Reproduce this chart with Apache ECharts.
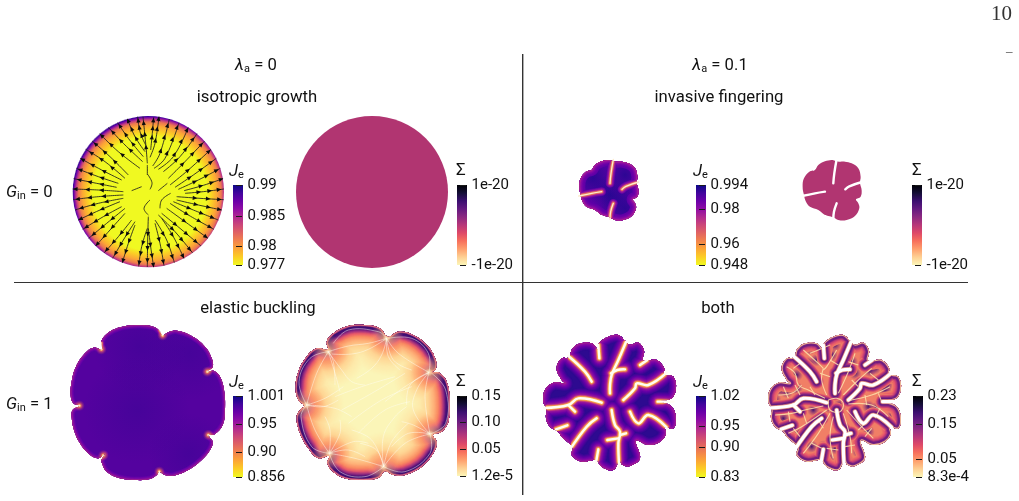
<!DOCTYPE html>
<html>
<head>
<meta charset="utf-8">
<style>html,body{margin:0;padding:0;background:#fff}#main{width:1019px;height:501px}</style>
<script src="https://cdn.jsdelivr.net/npm/echarts@6/dist/echarts.min.js"></script>
</head>
<body>
<div id="main"></div>
<script>
// Colormaps for the two fields
const plasmaMap = ['#0d0887','#41049d','#6a00a8','#8f0da4','#b12a90','#cc4778','#e16462','#f2844b','#fca636','#fcce25','#f0f921'];
const magmaMap = ['#000004','#140e36','#3b0f70','#641a80','#8c2981','#b73779','#de4968','#f7705c','#fe9f6d','#fecf92','#fcf6b8'];

// Colorbar scales: ticks and their printed labels
const isoJeTicks = [0.99, 0.985, 0.98, 0.977];
const isoJeLabels = ['0.99', '0.985', '0.98', '0.977'];
const isoSigmaTicks = [1e-20, -1e-20];
const isoSigmaLabels = ['1e-20', '-1e-20'];
const invJeTicks = [0.994, 0.98, 0.96, 0.948];
const invJeLabels = ['0.994', '0.98', '0.96', '0.948'];
const invSigmaTicks = [1e-20, -1e-20];
const invSigmaLabels = ['1e-20', '-1e-20'];
const bucJeTicks = [1.001, 0.95, 0.90, 0.856];
const bucJeLabels = ['1.001', '0.95', '0.90', '0.856'];
const bucSigmaTicks = [0.15, 0.10, 0.05, 1.2e-5];
const bucSigmaLabels = ['0.15', '0.10', '0.05', '1.2e-5'];
const bothJeTicks = [1.02, 0.95, 0.90, 0.83];
const bothJeLabels = ['1.02', '0.95', '0.90', '0.83'];
const bothSigmaTicks = [0.23, 0.15, 0.05, 8.3e-4];
const bothSigmaLabels = ['0.23', '0.15', '0.05', '8.3e-4'];

// Isotropic growth: disc (centre x, centre y, radius) in domain units
const isoJeDisc = [265, 275, 227];
const isoSigmaDisc = [246, 276, 228];
const isoJeRadial = [[0,'#f0f921'],[0.74,'#f0f921'],[0.80,'#fbd324'],[0.875,'#fca636'],[0.925,'#ec7850'],[0.955,'#c23c80'],[0.98,'#7a08a6'],[0.995,'#3d049b'],[1,'#6a3aa8']];
const isoSigmaFill = '#b13571';

// Flow lines of the isotropic growth panel, inner end first
const isoFlowLines = [
  [[262,190],[258,140],[249,50]],
  [[272,150],[276,110],[281,52]],
  [[270,172],[285,130],[297,50]],
  [[278,198],[300,160],[328,57]],
  [[282,205],[315,175],[357,68]],
  [[295,208],[340,170],[385,82]],
  [[310,215],[360,170],[411,101]],
  [[325,235],[370,190],[434,123]],
  [[330,255],[385,210],[453,148]],
  [[345,262],[400,225],[469,175]],
  [[355,268],[415,240],[481,205]],
  [[372,272],[430,256],[489,236]],
  [[375,280],[430,275],[492,267]],
  [[350,290],[420,295],[491,299]],
  [[350,300],[415,315],[485,330]],
  [[340,305],[400,330],[475,360]],
  [[330,310],[385,345],[462,388]],
  [[320,325],[375,365],[444,415]],
  [[305,340],[360,385],[423,438]],
  [[295,345],[345,395],[398,459]],
  [[305,355],[340,410],[372,475]],
  [[285,360],[320,420],[343,488]],
  [[285,370],[300,430],[312,497]],
  [[265,385],[272,440],[281,501]],
  [[265,350],[263,420],[262,501]],
  [[262,385],[245,440],[236,499]],
  [[225,375],[205,430],[187,488]],
  [[225,365],[190,420],[158,475]],
  [[215,360],[175,410],[132,459]],
  [[195,340],[150,390],[107,438]],
  [[195,325],[140,370],[86,415]],
  [[185,320],[130,350],[68,388]],
  [[180,305],[120,330],[55,360]],
  [[190,295],[115,310],[45,330]],
  [[190,285],[115,290],[39,299]],
  [[190,275],[115,270],[38,267]],
  [[170,262],[110,250],[41,236]],
  [[175,250],[115,230],[49,205]],
  [[185,240],[125,210],[61,175]],
  [[195,235],[135,185],[77,148]],
  [[205,225],[150,170],[96,123]],
  [[240,205],[175,155],[119,101]],
  [[248,185],[190,130],[145,82]],
  [[250,170],[205,115],[173,68]],
  [[255,155],[225,110],[202,57]],
  [[257,135],[240,95],[233,50]]
];
const isoFlowCore = [
  [[262,195],[262,225]],
  [[245,260],[215,272]],
  [[262,222],[276,248],[270,268]],
  [[270,300],[252,325],[265,345]],
  [[332,280],[305,300],[300,325]],
  [[322,250],[295,272]]
];

// Invasive fingering: lobed boundary and the cracks running into it
const invRing = [[155,62],[167,65],[185,65],[205,70],[225,85],[232,110],[230,128],[235,150],[232,170],[218,178],[225,190],[228,205],[215,228],[190,240],[165,240],[150,232],[135,228],[125,225],[105,210],[80,200],[68,185],[62,165],[58,140],[62,115],[78,95],[95,90],[105,75],[125,64],[145,60]];
const invCracks = [
  [[160,58],[153,100],[150,130]],
  [[236,126],[198,139],[186,148]],
  [[160,190],[152,215],[150,238]],
  [[56,168],[95,160],[125,155]]
];
const invDeep = [[100,115,24],[150,165,20],[195,205,26],[195,105,20]];

// Elastic buckling: boundary, notch points, cuts at the notches, deep regions
const bucJeRing = [[126,118],[124,95],[140,72],[180,52],[235,45],[280,50],[298,62],[308,76],[322,68],[350,62],[395,78],[435,110],[455,145],[458,170],[440,185],[462,183],[480,200],[492,240],[495,300],[488,345],[465,372],[445,375],[458,395],[450,420],[425,450],[385,480],[340,497],[315,495],[298,485],[290,495],[270,507],[225,510],[175,503],[140,485],[128,465],[125,450],[135,432],[112,445],[85,430],[60,400],[42,360],[35,320],[38,300],[58,287],[40,280],[32,255],[35,215],[48,170],[75,130],[100,113]];
const bucJeNotches = [[124,118],[308,76],[442,185],[445,375],[130,436],[298,485],[58,287]];
const bucJeCuts = [[[124,118],[124,98]],[[308,76],[298,60]],[[442,185],[460,176]],[[445,375],[462,378]],[[130,436],[120,450]],[[298,485],[294,499]],[[58,287],[36,291]]];
const bucJeDeep = [[390,130,70],[240,110,70],[385,430,60],[230,300,80]];
const bucSigmaRing = [[128,118],[125,95],[145,70],[190,48],[240,45],[285,55],[308,80],[340,65],[385,75],[430,110],[452,150],[452,178],[440,187],[462,188],[485,215],[494,270],[490,335],[470,365],[443,375],[455,395],[445,430],[410,470],[360,495],[325,495],[300,484],[280,503],[235,510],[180,505],[145,485],[127,460],[132,438],[100,445],[70,415],[45,370],[35,320],[48,297],[58,288],[40,270],[32,235],[40,185],[65,140],[95,115]];
const bucSigmaNotches = [[130,125],[305,85],[432,187],[435,372],[133,430],[296,470],[65,285]];

// Ridge lines of the stress field in the elastic buckling panel
const bucRidges = [
  [[130,125],[190,108],[250,100],[305,85]],
  [[140,132],[200,132],[250,118],[305,85]],
  [[130,125],[95,190],[65,285]],
  [[130,125],[150,190],[165,245]],
  [[130,125],[170,180],[200,215],[240,225]],
  [[130,125],[145,155],[150,225]],
  [[305,85],[340,130],[432,187]],
  [[305,85],[310,140],[345,180]],
  [[305,85],[290,135],[260,175],[215,205]],
  [[305,85],[325,150],[380,180]],
  [[432,187],[395,240],[385,300],[435,372]],
  [[432,187],[420,260],[435,372]],
  [[432,187],[360,230],[300,275]],
  [[432,187],[375,225],[365,285]],
  [[435,372],[360,400],[296,470]],
  [[435,372],[370,370],[320,410]],
  [[435,372],[385,345],[350,335]],
  [[133,430],[210,445],[296,470]],
  [[133,430],[190,420],[240,440]],
  [[133,430],[205,395],[250,400]],
  [[133,430],[90,360],[65,285]],
  [[133,430],[135,360],[120,320]],
  [[133,430],[165,370],[165,330]],
  [[65,285],[120,265],[175,230]],
  [[65,285],[150,295],[200,320]],
  [[65,285],[115,290],[160,270]],
  [[145,100],[190,60],[280,65],[305,85]],
  [[310,85],[380,85],[430,130],[432,187]],
  [[440,190],[482,240],[482,340],[435,372]],
  [[435,372],[435,430],[360,485],[296,470]],
  [[296,470],[240,500],[165,485],[133,430]],
  [[133,430],[80,410],[48,320],[65,285]],
  [[65,285],[42,215],[75,145],[130,125]],
  [[150,260],[230,230],[330,200]],
  [[170,300],[260,250],[360,190]],
  [[190,340],[290,270],[380,230]],
  [[220,370],[300,300],[375,275]],
  [[296,470],[295,380],[330,320],[365,290]],
  [[296,470],[260,390],[200,360]],
  [[296,470],[320,395],[370,340]],
  [[296,470],[275,420],[225,400]]
];

// Combined case: lobed boundary and the branching cracks
const bothRing = [[207,40],[235,20],[265,15],[285,32],[300,44],[325,38],[342,62],[338,90],[350,92],[380,90],[403,115],[402,132],[430,140],[438,175],[425,205],[392,214],[425,230],[438,265],[430,295],[405,292],[408,312],[390,335],[355,345],[318,332],[330,385],[300,408],[278,405],[268,392],[250,420],[215,410],[200,390],[190,390],[155,395],[125,375],[128,352],[95,320],[85,305],[60,290],[48,265],[50,236],[40,215],[45,180],[70,158],[105,160],[95,150],[80,115],[95,85],[118,82],[125,60],[145,42],[185,40],[205,60]];
const bothCracks = [
  [[288,36],[265,90],[245,135],[240,165],[240,190]],
  [[243,130],[262,120],[285,118]],
  [[205,45],[208,85]],
  [[115,78],[165,125],[185,155]],
  [[352,90],[330,105]],
  [[410,128],[355,165],[320,160],[315,175],[280,210]],
  [[383,215],[430,215]],
  [[42,234],[115,225],[145,205],[215,218]],
  [[115,225],[135,245]],
  [[245,240],[255,285],[270,305],[265,340],[268,412]],
  [[270,315],[288,310]],
  [[265,325],[232,330]],
  [[300,245],[325,280],[355,255],[410,292]],
  [[200,265],[170,290],[120,358]],
  [[112,286],[78,298]],
  [[205,358],[198,398]]
];

// Depth profiles: distance from the boundary or from a crack, and the colour there
const invRingDepth = [[0,'#c33d80'],[1.5,'#8f0da4'],[4,'#6a00a8'],[6,'#5c01a6']];
const invCrackDepth = [[0,'#f5b060'],[0.6,'#e8705a'],[1.5,'#a01a9c'],[3.5,'#5c01a6']];
const bucJeDepth = [[0,'#b5367a'],[1.5,'#7d08a6'],[3.5,'#5c01a6']];
const bucJeCutDepth = [[0,'#fbb040'],[0.8,'#e16462'],[1.8,'#8f0da4'],[3,'#5c01a6']];
const bucSigmaDepth = [[0,'#fde0b0'],[1,'#d0507a'],[2,'#3b0f70'],[4,'#4a1079'],[6.5,'#a0307f'],[9,'#e8596a'],[12,'#f98a62'],[16,'#feb078'],[22,'#fed594'],[30,'#fde9aa'],[40,'#fbf5b8']];
const bothJeRingDepth = [[0,'#b5367a'],[1.5,'#8f0da4'],[4,'#6a00a8'],[8,'#2d0a90']];
const bothJeCrackDepth = [[0,'#fde7b0'],[0.6,'#fca636'],[1.2,'#dc5c68'],[2.5,'#9a179b'],[5,'#6a00a8'],[9,'#2d0a90']];
const bothSigmaRingDepth = [[0,'#fde8c0'],[0.9,'#f9b88a'],[1.5,'#7b2382'],[3,'#6a1c81'],[4.5,'#b73779'],[6.5,'#e8596a'],[9,'#f07f66']];
const bothSigmaCrackDepth = [[0,'#fde8c0'],[0.7,'#e07a70'],[1.5,'#5b157d'],[3,'#8c2981'],[4.5,'#d3436e'],[6,'#f07f66']];

// Cell network and stress spots of the combined case
const bothSigmaNetwork = [
  [[205,115],[200,150],[215,195]],[[245,60],[215,110],[205,120]],[[145,60],[190,100],[205,115]],
  [[95,110],[120,130],[130,165],[160,180],[210,205]],[[70,195],[110,190],[140,165]],
  [[60,255],[110,250],[150,240],[205,228]],[[100,310],[140,290],[215,240]],
  [[145,370],[190,310],[225,250]],[[235,385],[225,320],[235,260]],[[290,370],[285,320],[265,250]],
  [[355,325],[320,290],[275,240]],[[400,260],[350,225],[280,222]],[[405,170],[350,195],[280,212]],
  [[350,115],[310,150],[265,195]],[[300,70],[280,125],[250,190]],
  [[165,70],[190,60],[225,45]],[[115,115],[135,100]],[[85,170],[100,205]],[[120,165],[135,195]],
  [[165,170],[180,195]],[[225,90],[250,105]],[[195,130],[225,140]],[[280,95],[310,105]],
  [[290,150],[310,170]],[[345,130],[370,150]],[[330,195],[335,225]],[[370,190],[380,215]],
  [[375,235],[360,265]],[[310,300],[330,280]],[[330,320],[350,295]],[[270,350],[300,345]],
  [[215,355],[250,360]],[[170,340],[200,355]],[[115,295],[135,320]],[[100,245],[105,275]],
  [[145,250],[155,280]],[[190,270],[205,295]],[[220,210],[245,205],[265,220],[255,245],[225,240],[220,210]]
];
const bothSigmaSpots = [[230,75],[185,90],[160,100],[125,135],[95,185],[125,175],[360,115],[345,122],[300,130],[290,95],[390,180],[365,235],[340,230],[300,322],[205,350],[170,350],[120,300],[85,265],[75,180],[225,232],[255,225],[175,240],[240,355],[340,305],[395,165],[150,320],[310,365],[220,385],[60,210],[415,255],[240,45],[165,55]];

// Panel layout: grid rectangle of every field panel (domain units are a third of a pixel)
const fieldBoxes = {
  isoJe:[60,100,240,180], isoSigma:[290,100,240,180],
  invJe:[560,140,130,140], invSigma:[783.3,140,130,140],
  bucJe:[60,310,180,180], bucSigma:[285,310,180,180],
  bothJe:[530,330,160,150], bothSigma:[755,330,160,150]
};
const barBoxes = {
  isoJe:[233,185,10,80], isoSigma:[457,185,10,80],
  invJe:[696,185,10,80], invSigma:[912,185,10,80],
  bucJe:[233,396,10,81], bucSigma:[457,396,10,80],
  bothJe:[696,396,10,81], bothSigma:[913,396,10,81]
};

const SMOOTH = 0.4;
const toPx = (api, line) => line.map(p => api.coord(p));
const gradientStops = list => list.map((c, i) => ({offset: i / (list.length - 1), color: c}));
const lerpDepth = (stops, d) => {
  for (let i = 1; i < stops.length; i++) {
    if (d <= stops[i][0]) {
      const t = (d - stops[i-1][0]) / (stops[i][0] - stops[i-1][0]);
      return echarts.color.lerp(t, [stops[i-1][1], stops[i][1]]);
    }
  }
  return stops[stops.length-1][1];
};
const softSpot = (api, p, r, color, fade) => {
  const c = api.coord(p);
  return {type:'circle', shape:{cx:c[0], cy:c[1], r:r},
    style:{fill:{type:'radial', x:0.5, y:0.5, r:0.5, colorStops:[{offset:0,color:color},{offset:1,color:fade}]}}};
};

// Boundary-hugging colour field: nested strokes clipped by the boundary
function depthField(api, ring, cracks, ringDepth, crackDepth, core, base, extras) {
  const ringPts = toPx(api, ring);
  const crackPts = cracks.map(c => toPx(api, c));
  const children = [{type:'polygon', shape:{points:ringPts, smooth:SMOOTH}, style:{fill:base}}].concat(extras || []);
  let top = ringDepth[ringDepth.length-1][0];
  if (crackDepth) top = Math.max(top, crackDepth[crackDepth.length-1][0]);
  for (let d = top; d > 0; d -= 0.5) {
    if (d <= ringDepth[ringDepth.length-1][0]) {
      children.push({type:'polygon', shape:{points:ringPts, smooth:SMOOTH},
        style:{fill:'none', stroke:lerpDepth(ringDepth, d), lineWidth:2*d, lineJoin:'round'}});
    }
    if (crackDepth && d <= crackDepth[crackDepth.length-1][0]) {
      crackPts.forEach(pts => children.push({type:'polyline', shape:{points:pts, smooth:SMOOTH},
        style:{fill:'none', stroke:lerpDepth(crackDepth, d), lineWidth:core + 2*d, lineJoin:'round', lineCap:'round'}}));
    }
  }
  return children;
}
function clipped(api, ring, children) {
  return {type:'group', children:children,
    clipPath:{type:'polygon', shape:{points:toPx(api, ring), smooth:SMOOTH}}};
}
function crackCores(api, cracks, color, width) {
  return cracks.map(c => ({type:'polyline', shape:{points:toPx(api, c), smooth:SMOOTH},
    style:{fill:'none', stroke:color, lineWidth:width, lineJoin:'round', lineCap:'round'}}));
}
function arrowOn(pts, frac) {
  let total = 0;
  const seg = [];
  for (let i = 1; i < pts.length; i++) {
    const l = Math.hypot(pts[i][0]-pts[i-1][0], pts[i][1]-pts[i-1][1]);
    seg.push(l); total += l;
  }
  let run = frac * total, i = 0;
  while (i < seg.length - 1 && run > seg[i]) { run -= seg[i]; i++; }
  const ux = (pts[i+1][0]-pts[i][0]) / seg[i], uy = (pts[i+1][1]-pts[i][1]) / seg[i];
  const x = pts[i][0] + ux*run, y = pts[i][1] + uy*run;
  return {type:'polygon', shape:{points:[[x+ux*2.8,y+uy*2.8],[x-ux*1.8-uy*2.1,y-uy*1.8+ux*2.1],[x-ux*1.8+uy*2.1,y-uy*1.8-ux*2.1]]},
    style:{fill:'#0c0c0c'}};
}

// One drawing routine per field panel
const painters = {
  isoJe(api) {
    const c = api.coord(isoJeDisc), r = api.size([isoJeDisc[2], 0])[0];
    const kids = [{type:'circle', shape:{cx:c[0], cy:c[1], r:r},
      style:{fill:{type:'radial', x:0.51, y:0.51, r:0.51,
        colorStops:isoJeRadial.map(s => ({offset:s[0], color:s[1]}))}}}];
    isoFlowLines.concat(isoFlowCore).forEach((line, k) => {
      const pts = toPx(api, line);
      kids.push({type:'polyline', shape:{points:pts, smooth:SMOOTH},
        style:{fill:'none', stroke:'#1c1c1c', lineWidth:0.85}});
      if (k < isoFlowLines.length) {
        [0.34, 0.62, 0.86].forEach(f => kids.push(arrowOn(pts, f + (k % 3) * 0.04)));
      }
    });
    return {type:'group', children:kids};
  },
  isoSigma(api) {
    const c = api.coord(isoSigmaDisc), r = api.size([isoSigmaDisc[2], 0])[0];
    return {type:'circle', shape:{cx:c[0], cy:c[1], r:r}, style:{fill:isoSigmaFill}};
  },
  invJe(api) {
    const deep = invDeep.map(s => softSpot(api, s.slice(0,2), s[2], 'rgba(25,8,140,0.7)', 'rgba(25,8,140,0)'));
    const field = depthField(api, invRing, invCracks, invRingDepth, invCrackDepth, 1.8, '#5c01a6', deep);
    return {type:'group', children:[clipped(api, invRing, field)].concat(crackCores(api, invCracks, '#fdeccc', 1.3))};
  },
  invSigma(api) {
    return {type:'group', children:[{type:'polygon', shape:{points:toPx(api, invRing), smooth:SMOOTH}, style:{fill:isoSigmaFill}}]
      .concat(crackCores(api, invCracks, '#fff', 2.4))};
  },
  bucJe(api) {
    const deep = bucJeDeep.map(s => softSpot(api, s.slice(0,2), s[2]/1.5, 'rgba(60,4,150,0.55)', 'rgba(60,4,150,0)'));
    const field = depthField(api, bucJeRing, bucJeCuts, bucJeDepth, bucJeCutDepth, 1, '#54029f', deep);
    bucJeNotches.forEach(n => {
      field.push(softSpot(api, n, 5.5, 'rgba(252,166,54,0.95)', 'rgba(200,60,110,0)'));
      field.push(softSpot(api, n, 1.8, '#fff4d0', 'rgba(255,244,208,0)'));
    });
    return {type:'group', children:[clipped(api, bucJeRing, field)].concat(crackCores(api, bucJeCuts, '#fffaf0', 0.9))};
  },
  bucSigma(api) {
    const field = depthField(api, bucSigmaRing, [], bucSigmaDepth, null, 0, '#fbf5b8');
    bucSigmaNotches.forEach(n => {
      field.push(softSpot(api, n, 17, 'rgba(253,175,120,0.95)', 'rgba(253,175,120,0)'));
      field.push(softSpot(api, n, 4, 'rgba(254,232,190,0.9)', 'rgba(254,232,190,0)'));
    });
    bucRidges.forEach(line => field.push({type:'polyline', shape:{points:toPx(api, line), smooth:SMOOTH},
      style:{fill:'none', stroke:'rgba(255,255,245,0.62)', lineWidth:0.75}}));
    return clipped(api, bucSigmaRing, field);
  },
  bothJe(api) {
    const field = depthField(api, bothRing, bothCracks, bothJeRingDepth, bothJeCrackDepth, 2.8, '#2d0a90');
    return {type:'group', children:[clipped(api, bothRing, field)].concat(crackCores(api, bothCracks, '#fffdf2', 2.4))};
  },
  bothSigma(api) {
    const spots = bothSigmaSpots.map(p => softSpot(api, p, 6.5, 'rgba(60,14,112,0.95)', 'rgba(140,41,129,0)'));
    const field = depthField(api, bothRing, bothCracks, bothSigmaRingDepth, bothSigmaCrackDepth, 3.2, '#f07f66', spots);
    bothSigmaNetwork.forEach(line => field.push({type:'polyline', shape:{points:toPx(api, line), smooth:SMOOTH},
      style:{fill:'none', stroke:'rgba(254,224,170,0.85)', lineWidth:1.1}}));
    return {type:'group', children:[clipped(api, bothRing, field)].concat(crackCores(api, bothCracks, '#fff', 3.2))};
  }
};

const grid = [], xAxis = [], yAxis = [], series = [];
Object.keys(fieldBoxes).forEach(name => {
  const b = fieldBoxes[name], i = grid.length;
  grid.push({left:b[0], top:b[1], width:b[2], height:b[3], containLabel:false});
  xAxis.push({type:'value', gridIndex:i, min:0, max:b[2]*3, show:false});
  yAxis.push({type:'value', gridIndex:i, min:0, max:b[3]*3, inverse:true, show:false});
  series.push({type:'custom', coordinateSystem:'cartesian2d', xAxisIndex:i, yAxisIndex:i, clip:false, silent:true,
    data:[[0,0]], renderItem:(params, api) => painters[name](api)});
});

// Colorbars: gradient rectangle on a value axis carrying the ticks
const colorbars = [
  ['isoJe', isoJeTicks, isoJeLabels, plasmaMap],
  ['isoSigma', isoSigmaTicks, isoSigmaLabels, magmaMap],
  ['invJe', invJeTicks, invJeLabels, plasmaMap],
  ['invSigma', invSigmaTicks, invSigmaLabels, magmaMap],
  ['bucJe', bucJeTicks, bucJeLabels, plasmaMap],
  ['bucSigma', bucSigmaTicks, bucSigmaLabels, magmaMap],
  ['bothJe', bothJeTicks, bothJeLabels, plasmaMap],
  ['bothSigma', bothSigmaTicks, bothSigmaLabels, magmaMap]
];
colorbars.forEach(([name, ticks, labels, cmap]) => {
  const b = barBoxes[name], i = grid.length;
  const lo = Math.min(...ticks), hi = Math.max(...ticks);
  grid.push({left:b[0], top:b[1], width:b[2], height:b[3], containLabel:false});
  xAxis.push({type:'value', gridIndex:i, min:0, max:1, show:false});
  yAxis.push({type:'value', gridIndex:i, min:lo, max:hi, position:'right', offset:-3, z:6,
    splitLine:{show:false}, axisLine:{show:false},
    axisTick:{show:true, length:6, lineStyle:{color:'#1a1a1a', width:1}, customValues:ticks},
    axisLabel:{show:true, margin:7.5, fontFamily:'Roboto', fontSize:15, color:'#111',
      customValues:ticks, showMinLabel:true, showMaxLabel:true, hideOverlap:false,
      formatter:v => labels[ticks.indexOf(v)]}});
  series.push({type:'custom', coordinateSystem:'cartesian2d', xAxisIndex:i, yAxisIndex:i, clip:false, silent:true, z:1,
    data:[[0,lo,1,hi]],
    renderItem:(params, api) => {
      const a = api.coord([api.value(0), api.value(3)]), c = api.coord([api.value(2), api.value(1)]);
      return {type:'rect', shape:{x:a[0], y:a[1], width:c[0]-a[0], height:c[1]-a[1]},
        style:{fill:{type:'linear', x:0, y:0, x2:0, y2:1, colorStops:gradientStops(cmap)}}};
    }});
});

// Headings and row/column captions
const font = 'Roboto';
const rich = {
  it:{fontFamily:font, fontStyle:'italic', fontSize:16.7, fill:'#111', color:'#111'},
  sub:{fontFamily:font, fontSize:11, verticalAlign:'bottom', padding:[7,0,0,0], fill:'#111', color:'#111'},
  it2:{fontFamily:font, fontStyle:'italic', fontSize:17, fill:'#111', color:'#111'}
};
const caption = (x, y, text, size, align) => ({type:'text', silent:true, z:20, x:x, y:y,
  style:{text:text, fontFamily:font, fontSize:size || 16.7, fill:'#111', align:align || 'center', verticalAlign:'middle', rich:rich}});
const captions = [
  caption(256, 66, '{it|λ}{sub|a} = 0'),
  caption(720, 66, '{it|λ}{sub|a} = 0.1'),
  caption(257, 98, 'isotropic growth'),
  caption(719, 98, 'invasive fingering'),
  caption(258, 309, 'elastic buckling'),
  caption(718, 309, 'both'),
  caption(6, 193, '{it|G}{sub|in} = 0', 16.7, 'left'),
  caption(6, 405, '{it|G}{sub|in} = 1', 16.7, 'left'),
  caption(229, 172, '{it2|J}{sub|e}', 17, 'left'),
  caption(693, 172, '{it2|J}{sub|e}', 17, 'left'),
  caption(229, 383, '{it2|J}{sub|e}', 17, 'left'),
  caption(693, 383, '{it2|J}{sub|e}', 17, 'left'),
  caption(456, 171, 'Σ', 17, 'left'),
  caption(912, 171, 'Σ', 17, 'left'),
  caption(456, 382, 'Σ', 17, 'left'),
  caption(912, 382, 'Σ', 17, 'left'),
  {type:'text', silent:true, x:991, y:14, style:{text:'10', fontFamily:'"Liberation Serif"', fontSize:21, fill:'#333', align:'left', verticalAlign:'middle'}},
  {type:'text', silent:true, x:1006, y:52, style:{text:'–', fontFamily:'"Liberation Serif"', fontSize:13, fill:'#333', align:'left', verticalAlign:'middle'}},
  {type:'line', silent:true, shape:{x1:522.7, y1:54, x2:522.7, y2:495}, style:{stroke:'#333', lineWidth:1.4}},
  {type:'line', silent:true, shape:{x1:14, y1:282.5, x2:968, y2:282.5}, style:{stroke:'#333', lineWidth:1.2}}
];

const chart = echarts.init(document.getElementById('main'), null, {renderer:'canvas'});
chart.setOption({animation:false, backgroundColor:'#fff', grid, xAxis, yAxis, series, graphic:{elements:captions}});
</script>
</body>
</html>
